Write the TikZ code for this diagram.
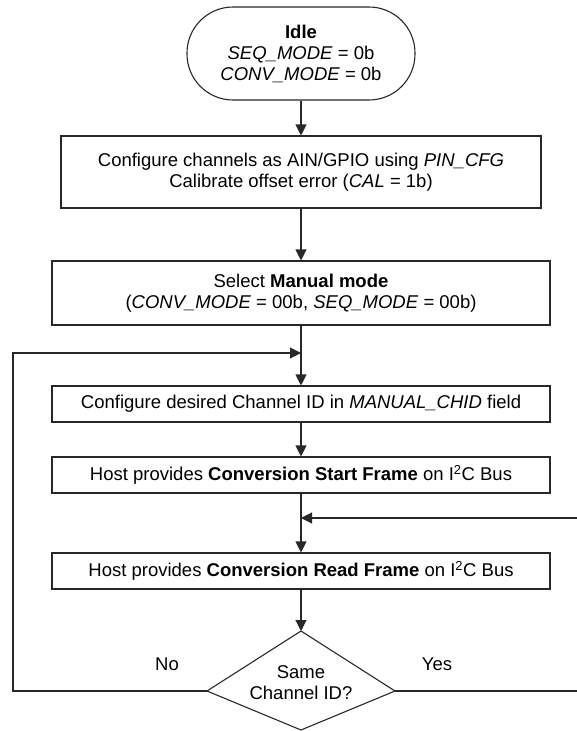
\documentclass[tikz,border=0pt]{standalone}
\usepackage{fontspec}
\setmainfont{Liberation Sans}
\usetikzlibrary{arrows.meta}
\definecolor{ln}{RGB}{40,40,40}
\begin{document}
\begin{tikzpicture}[x=1pt,y=-1pt,
  every node/.style={font=\fontsize{18.5}{21}\selectfont, inner sep=0pt, align=center, text=black},
  box/.style={draw=ln, line width=1.1pt, minimum width=#1, anchor=center},
  arr/.style={draw=ln, line width=1.1pt, -{Triangle[length=11pt,width=11pt]}},
  ln/.style={draw=ln, line width=1.1pt}]
\useasboundingbox (0,0) rectangle (577,731);
\node[box=228pt, minimum height=93pt, rounded corners=46pt] (idle) at (301,53.5)
  {\textbf{Idle}\\ \textit{SEQ\_MODE} = 0b\\ \textit{CONV\_MODE} = 0b};
\node[box=480pt, minimum height=72pt] (b1) at (301,172)
  {Configure channels as AIN/GPIO using \textit{PIN\_CFG}\\ Calibrate offset error (\textit{CAL} = 1b)};
\node[box=498pt, minimum height=64pt] (b2) at (301,293)
  {Select \textbf{Manual mode}\\ (\textit{CONV\_MODE} = 00b, \textit{SEQ\_MODE} = 00b)};
\node[box=498pt, minimum height=36pt] (b3) at (301,404)
  {Configure desired Channel ID in \textit{MANUAL\_CHID} field};
\node[box=498pt, minimum height=36pt] (b4) at (301,475)
  {Host provides \textbf{Conversion Start Frame} on I\textsuperscript{2}C Bus};
\node[box=498pt, minimum height=36pt] (b5) at (301,571)
  {Host provides \textbf{Conversion Read Frame} on I\textsuperscript{2}C Bus};
% decision
\coordinate (dt) at (301,631);
\coordinate (dl) at (207,691);
\coordinate (db) at (301,730);
\coordinate (dr) at (395,691);
\draw[ln, line join=miter] (dt) -- (dl) -- (db) -- (dr) -- cycle;
\node (dtext) at (301,683) {Same\\ Channel ID?};
\node (no) at (167,664) {No};
\node (yes) at (437,664) {Yes};
% junctions
\coordinate (j1) at (301,353);
\coordinate (loopL) at (13,353);
\coordinate (j2) at (301,518);
\coordinate (rIn) at (578,518);
\coordinate (rOut) at (578,691);
% connectors
\draw[arr] (idle.south) -- (b1.north);
\draw[arr] (b1.south) -- (b2.north);
\draw[arr] (b2.south) -- (b3.north);
\draw[arr] (b3.south) -- (b4.north);
\draw[arr] (b4.south) -- (b5.north);
\draw[arr] (b5.south) -- (dt);
\draw[arr] (dl) -| (loopL) -- (j1);
\draw[ln] (dr) -- (rOut);
\draw[arr] (rIn) -- (j2);
\end{tikzpicture}
\end{document}
